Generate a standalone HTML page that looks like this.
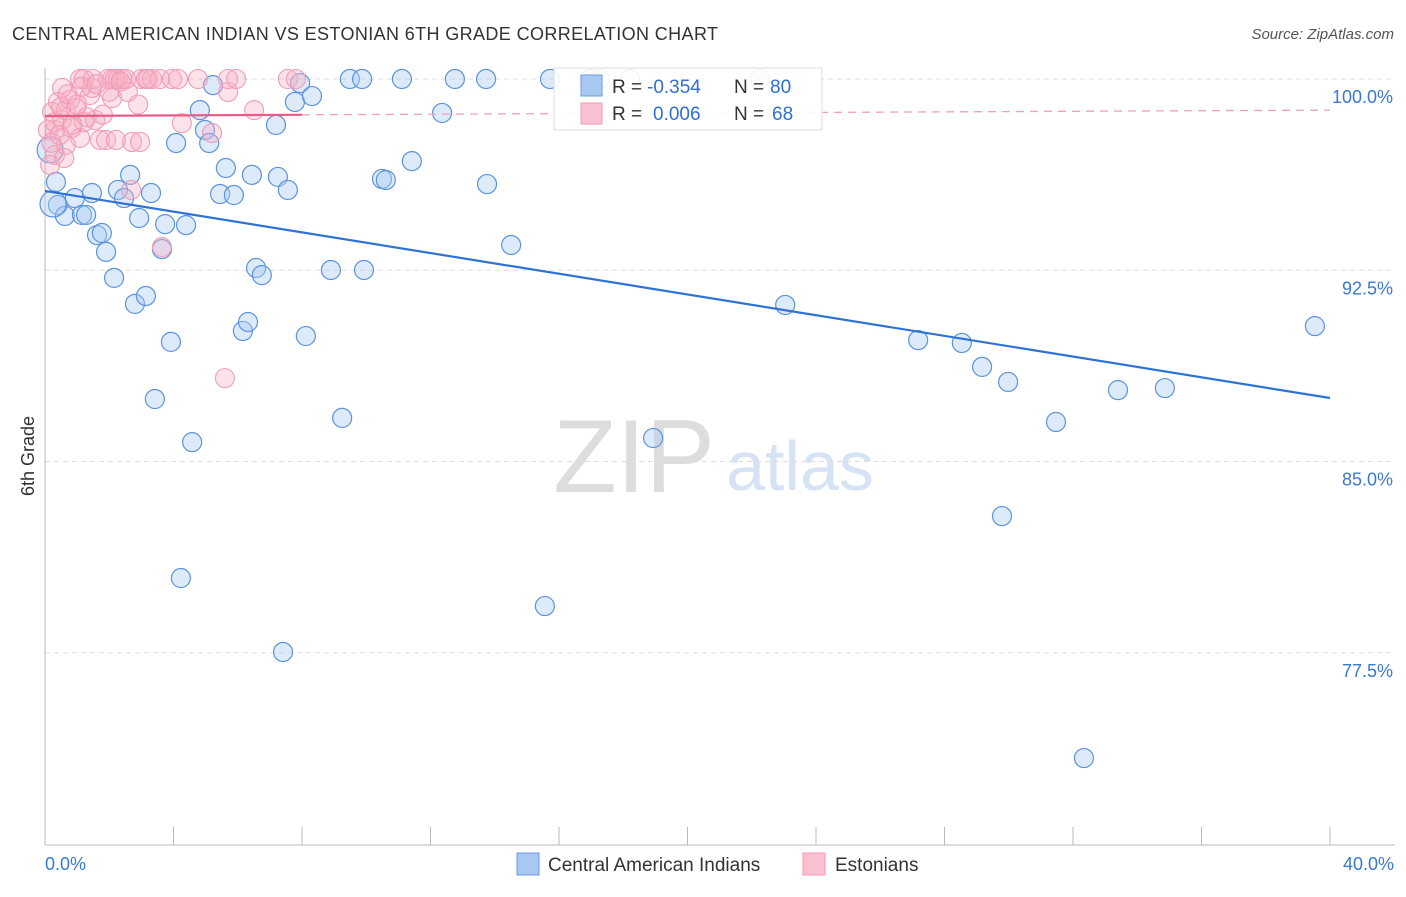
<!DOCTYPE html>
<html><head><meta charset="utf-8"><style>
body{margin:0;background:#fff;font-family:"Liberation Sans",sans-serif;}
svg text{font-family:"Liberation Sans",sans-serif;}
</style></head><body>
<svg id="chart" width="1406" height="892">
<text x="12" y="40" font-size="18" fill="#333" textLength="706" lengthAdjust="spacing">CENTRAL AMERICAN INDIAN VS ESTONIAN 6TH GRADE CORRELATION CHART</text>
<text x="1394" y="39" font-size="15" fill="#555" font-style="italic" text-anchor="end">Source: ZipAtlas.com</text>
<text x="0" y="0" font-size="18" fill="#333" text-anchor="middle" transform="translate(34,456) rotate(-90)">6th Grade</text>
<g>
<text x="634" y="492" font-size="104" fill="#ddd" font-family="Liberation Serif" text-anchor="middle">ZIP</text>
<text x="800" y="490" font-size="70" fill="#d5e3f5" text-anchor="middle">atlas</text>
</g>
<g id="grid"></g><g id="axes"></g><g id="pts"></g><g id="trend"></g>
<g>
<rect x="554" y="68" width="268" height="62" fill="#fff" fill-opacity="0.9" stroke="#ddd"/>
<rect x="581" y="75" width="21" height="21" fill="#a9c8f2" stroke="#6a9de0"/>
<rect x="581" y="103" width="21" height="21" fill="#f9c0d0" stroke="#f09ab5"/>
<text x="612" y="93" font-size="19" fill="#333">R = </text><text x="647" y="93" font-size="19" fill="#2e6fd4">-0.354</text>
<text x="734" y="93" font-size="19" fill="#333">N = </text><text x="770" y="93" font-size="19" fill="#2e6fd4">80</text>
<text x="612" y="120" font-size="19" fill="#333">R = </text><text x="653" y="120" font-size="19" fill="#2e6fd4">0.006</text>
<text x="734" y="120" font-size="19" fill="#333">N = </text><text x="772" y="120" font-size="19" fill="#2e6fd4">68</text>
</g>
<g>
<rect x="517" y="853" width="22" height="22" fill="#a9c8f2" stroke="#6a9de0"/>
<text x="548" y="871" font-size="19" fill="#333">Central American Indians</text>
<rect x="803" y="853" width="22" height="22" fill="#f9c0d0" stroke="#f09ab5"/>
<text x="835" y="871" font-size="19" fill="#333">Estonians</text>
</g>
</svg>
<script>
const yTicks=[100,92.5,85,77.5];
const yTickLabels=["100.0%","92.5%","85.0%","77.5%"];
const xTickLabels=["0.0%","40.0%"];
const blueX=[0.34,0.40,0.62,0.93,1.15,1.28,1.46,1.62,1.77,1.90,2.15,2.27,2.46,2.65,2.80,2.93,3.14,3.30,3.42,3.64,3.74,3.92,4.08,4.23,4.39,4.58,4.82,4.98,5.11,5.23,5.45,5.63,5.88,6.16,6.32,6.44,6.57,6.75,7.19,7.25,7.41,7.56,7.78,7.94,8.12,8.31,8.90,9.25,9.49,9.87,9.93,10.49,10.61,11.11,11.42,12.36,12.76,13.73,13.76,14.51,15.56,15.72,16.96,17.28,18.21,18.93,22.26,23.04,27.18,28.54,29.17,29.79,29.98,31.47,32.34,33.40,34.86,39.53,0.16,0.25];
const blueY=[95.96,95.06,94.63,95.33,94.67,94.67,95.53,93.88,93.96,93.22,92.20,95.65,95.33,96.24,91.18,94.55,91.49,95.53,87.45,93.33,94.31,89.69,97.49,80.43,94.27,85.76,98.78,98.00,97.49,99.76,95.49,96.51,95.45,90.12,90.47,96.24,92.59,92.31,98.20,96.16,77.53,95.65,99.10,99.84,89.92,99.33,92.51,86.71,100,100,92.51,96.08,96.04,100,96.78,98.67,100,100,95.88,93.49,79.33,100,100,100,100,85.92,100,91.14,89.76,89.65,88.71,82.86,88.12,86.55,73.37,87.80,87.88,90.31,97.22,95.10];
const pinkX=[0.22,0.31,0.40,0.53,0.65,0.78,0.84,0.96,1.09,1.21,1.40,1.56,1.71,1.90,2.09,2.21,2.58,2.71,2.96,3.64,4.26,5.20,5.60,5.70,6.51,2.68,0.31,0.16,0.09,0.53,1.46,0.65,1.09,1.21,1.49,1.96,2.09,2.27,2.40,2.52,2.99,3.14,3.33,3.58,3.95,4.14,4.76,5.70,5.95,7.56,7.81,2.18,0.3,0.5,0.7,1.0,1.3,0.45,0.85,1.15,1.6,2.0,2.35,0.2,0.6,1.8,2.9,3.2];
const pinkY=[98.71,98.0,99.10,98.39,98.78,99.18,98.08,98.86,97.69,98.31,99.37,98.39,97.61,97.61,99.25,97.61,99.49,97.53,97.53,93.41,98.27,97.88,88.27,99.49,98.78,95.65,97.02,96.63,98.0,99.65,99.65,97.41,100,100,100,100,100,100,100,100,100,100,100,100,100,100,100,100,100,100,100,100,98.3,98.9,99.4,99.0,98.5,97.8,98.2,99.7,99.8,99.5,99.9,97.5,96.9,98.6,99.0,100];
const blueTrend=[95.61,87.49];
const pinkTrend=[98.55,98.78];
const NS="http://www.w3.org/2000/svg";
const X0=45,X1=1330,Y100=79,PPU=25.5;
const sx=v=>X0+v/40*(X1-X0);
const sy=v=>Y100+(100-v)*PPU;
function mk(tag,attrs,parent){const e=document.createElementNS(NS,tag);for(const k in attrs)e.setAttribute(k,attrs[k]);parent.appendChild(e);return e;}
const grid=document.getElementById('grid'),axes=document.getElementById('axes'),pts=document.getElementById('pts'),trend=document.getElementById('trend');
yTicks.forEach((t,i)=>{
 const l=mk('line',{x1:X0,x2:1395,y1:sy(t),y2:sy(t),stroke:'#ddd','stroke-dasharray':'5,4'},grid);
 
 
 const tx=mk('text',{x:1393,y:sy(t)+24,'font-size':18,fill:'#3a78d8','text-anchor':'end'},grid);
 tx.textContent=yTickLabels[i];
 
 
});
const ax=mk('line',{x1:X0,x2:1395,y1:845,y2:845,stroke:'#bbb'},axes);


const ay=mk('line',{x1:X0,x2:X0,y1:68,y2:845,stroke:'#bbb'},axes);


for(let i=0;i<=10;i++){const x=sx(i*4);const t=mk('line',{x1:x,x2:x,y1:827,y2:845,stroke:'#bbb'},axes);
 
 }
[[0,'start',45],[40,'end',1394]].forEach((d,i)=>{const t=mk('text',{x:d[2],y:870,'font-size':18,fill:'#3a78d8','text-anchor':d[1]},axes);t.textContent=xTickLabels[i];
 
 });
blueX.forEach((x,i)=>{const c=mk('circle',{cx:sx(x),cy:sy(blueY[i]),r:(i>=78?13:9.5),fill:'rgba(170,202,242,0.4)',stroke:'#5b93dd','stroke-width':1.2},pts);
 
 });
pinkX.forEach((x,i)=>{const c=mk('circle',{cx:sx(x),cy:sy(pinkY[i]),r:9.5,fill:'rgba(246,175,196,0.35)',stroke:'#f09cb6','stroke-width':1.1},pts);
 
 });
const bl=mk('line',{x1:sx(0),y1:sy(blueTrend[0]),x2:sx(40),y2:sy(blueTrend[1]),stroke:'#2f72d6','stroke-width':2.2},trend);


const pAt=v=>pinkTrend[0]+(pinkTrend[1]-pinkTrend[0])*v/40;
const pl=mk('line',{x1:sx(0),y1:sy(pAt(0)),x2:sx(8),y2:sy(pAt(8)),stroke:'#ea5c88','stroke-width':2.2},trend);


const pd=mk('line',{x1:sx(8),y1:sy(pAt(8)),x2:sx(40),y2:sy(pAt(40)),stroke:'#f0a0b8','stroke-width':1.3,'stroke-dasharray':'8,6'},trend);


</script>
</body></html>
